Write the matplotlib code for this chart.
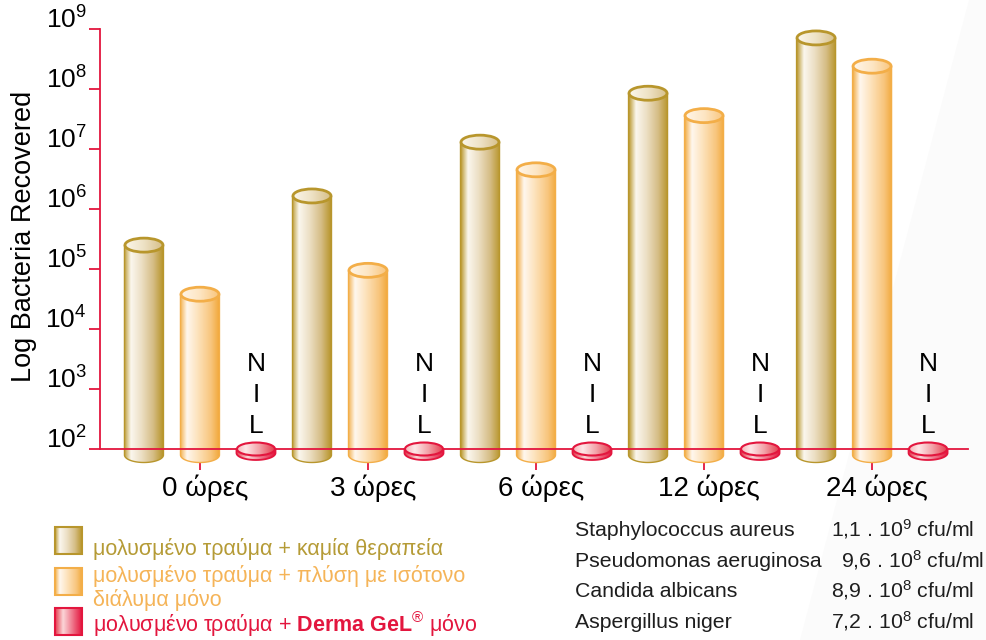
import matplotlib.pyplot as plt
import numpy as np
from matplotlib.colors import LinearSegmentedColormap
from matplotlib.patches import Ellipse, PathPatch, Polygon
from matplotlib.path import Path
from matplotlib.ticker import NullLocator
from matplotlib.transforms import IdentityTransform, ScaledTranslation

plt.rcParams['font.family'] = ['Liberation Sans', 'DejaVu Sans']
plt.rcParams['mathtext.fontset'] = 'custom'
plt.rcParams['mathtext.rm'] = 'Liberation Sans'
plt.rcParams['mathtext.it'] = 'Liberation Sans:italic'
plt.rcParams['mathtext.bf'] = 'Liberation Sans:bold'
plt.rcParams['mathtext.default'] = 'regular'

# data (cfu, log scale)
hours = ["0 ώρες", "3 ώρες", "6 ώρες", "12 ώρες", "24 ώρες"]
no_treatment = [2.5e5, 1.65e6, 1.3e7, 8.5e7, 7.1e8]
isotonic_only = [3.8e4, 9.5e4, 4.5e6, 3.6e7, 2.4e8]
derma_gel = ["NIL", "NIL", "NIL", "NIL", "NIL"]

legend_lines = [
    ["μολυσμένο τραύμα + καμία θεραπεία"],
    ["μολυσμένο τραύμα + πλύση με ισότονο", "διάλυμα μόνο"],
    [r"μολυσμένο τραύμα + $\mathbf{Derma\ GeL}^{®}$ μόνο"],
]
organisms = ["Staphylococcus aureus", "Pseudomonas aeruginosa",
             "Candida albicans", "Aspergillus niger"]
inoculum = ["1,1 . 10$^{9}$ cfu/ml", "9,6 . 10$^{8}$ cfu/ml",
            "8,9 . 10$^{8}$ cfu/ml", "7,2 . 10$^{8}$ cfu/ml"]

RED = '#e3163e'
GOLD = '#b8962c'
ORANGE = '#f3ae48'
gold_body = [(0, '#bc9b35'), (0.18, '#fbf7ee'), (0.45, '#ecdfc4'), (0.75, '#d5bd85'), (1, '#b8962c')]
gold_top = [(0, '#fbf7ec'), (0.5, '#eee2c6'), (1, '#d6bf88')]
orange_body = [(0, '#f2b04c'), (0.18, '#fff7ee'), (0.45, '#fde3bd'), (0.8, '#f8c57c'), (1, '#f2aa3e')]
orange_top = [(0, '#fff6ea'), (0.5, '#fde6c4'), (1, '#f9c57c')]
red_top = [(0, '#f6b3b8'), (0.25, '#fde8e8'), (0.6, '#f3a2a8'), (1, '#e43a4c')]
red_side = [(0, '#e43a4c'), (0.3, '#fbd6d8'), (1, '#e3163e')]

W, H = 987, 640
fig = plt.figure(figsize=(W / 100, H / 100), dpi=100)
fig.patches.append(Polygon([(969 / W, 1), (1, 1), (1, 0), (800 / W, 0)], closed=True,
                           transform=fig.transFigure, facecolor='#fbfbfb', edgecolor='none', zorder=-5))

# full-figure layer for the legend swatches (pixel coordinates)
lax = fig.add_axes([0, 0, 1, 1])
lax.set_xlim(0, W)
lax.set_ylim(0, H)
lax.set_autoscale_on(False)
lax.axis('off')

ax = fig.add_axes([100 / W, 161 / H, 868 / W, 450 / H])
ax.set_yscale('log')
ax.set_ylim(10 ** 1.5, 1e9)
ax.set_xlim(-0.595, 4.571)
ax.set_autoscale_on(False)
ax.patch.set_alpha(0)

for s in ['top', 'right']:
    ax.spines[s].set_visible(False)
ax.spines['left'].set_bounds(1e2, 1e9)
ax.spines['bottom'].set_position(('data', 1e2))
for s in ['left', 'bottom']:
    ax.spines[s].set_color(RED)
    ax.spines[s].set_linewidth(1.3)
    ax.spines[s].set_zorder(6)

ax.set_yticks([10.0 ** k for k in range(2, 10)])
ax.yaxis.set_minor_locator(NullLocator())
ax.tick_params(axis='y', length=8, width=1.3, color=RED, labelsize=19, pad=1.5)
for lab in ax.get_yticklabels():
    lab.set_va('baseline')
ax.set_xticks(range(len(hours)), hours)
ax.tick_params(axis='x', length=15, width=1.3, color=RED, labelsize=20, pad=3)
shift = ScaledTranslation(5 / 100, 0, fig.dpi_scale_trans)
for lab in ax.get_xticklabels():
    lab.set_transform(lab.get_transform() + shift)

fig.text(24 / W, 1 - 236 / H, "Log Bacteria Recovered", rotation=90,
         ha='center', va='center', fontsize=19.5)

px = IdentityTransform()


def gradient_fill(target, path, x0, x1, y0, y1, colors, z):
    clip = PathPatch(path, transform=px)
    cmap = LinearSegmentedColormap.from_list('g', colors)
    target.imshow(np.linspace(0, 1, 256)[None, :], cmap=cmap, extent=(x0, x1, y0, y1),
                  transform=px, aspect='auto', interpolation='bilinear', zorder=z, clip_path=clip)


def cylinder(xc, value, body, top, edge, z=3):
    cx, ytop = ax.transData.transform((xc, value))
    _, ybase = ax.transData.transform((xc, 1e2))
    ybot = ybase - 6
    hw, eh = 19.5, 7.5
    t = np.linspace(np.pi, 2 * np.pi, 40)
    arc = np.column_stack([cx + hw * np.cos(t), ybot + eh * np.sin(t)])
    verts = [(cx - hw, ytop)] + [tuple(p) for p in arc] + [(cx + hw, ytop), (cx - hw, ytop)]
    path = Path(verts, closed=True)
    gradient_fill(ax, path, cx - hw, cx + hw, ybot - eh, ytop, body, z)
    ax.add_patch(PathPatch(path, transform=px, facecolor='none', edgecolor=edge,
                           lw=1.0, zorder=z + 0.1, clip_on=False))
    e = Ellipse((cx, ytop), 2 * hw, 2 * eh, transform=px)
    gradient_fill(ax, e.get_path().transformed(e.get_patch_transform()),
                  cx - hw, cx + hw, ytop - eh, ytop + eh, top, z + 0.2)
    ax.add_patch(Ellipse((cx, ytop), 2 * hw - 1, 2 * eh - 1, transform=px, facecolor='none',
                         edgecolor=edge, lw=2.0, zorder=z + 0.3, clip_on=False))


def disc(xc, z=7):
    cx, yb = ax.transData.transform((xc, 1e2))
    hw, eh, th = 19.5, 7, 4
    t = np.linspace(np.pi, 2 * np.pi, 40)
    arc = np.column_stack([cx + hw * np.cos(t), yb - th + eh * np.sin(t)])
    verts = [(cx - hw, yb)] + [tuple(p) for p in arc] + [(cx + hw, yb), (cx - hw, yb)]
    path = Path(verts, closed=True)
    gradient_fill(ax, path, cx - hw, cx + hw, yb - th - eh, yb, red_side, z)
    ax.add_patch(PathPatch(path, transform=px, facecolor='none', edgecolor=RED,
                           lw=1.3, zorder=z + 0.1, clip_on=False))
    e = Ellipse((cx, yb), 2 * hw, 2 * eh, transform=px)
    gradient_fill(ax, e.get_path().transformed(e.get_patch_transform()),
                  cx - hw, cx + hw, yb - eh, yb + eh, red_top, z + 0.2)
    ax.add_patch(Ellipse((cx, yb), 2 * hw - 1, 2 * eh - 1, transform=px, facecolor='none',
                         edgecolor=RED, lw=1.5, zorder=z + 0.3, clip_on=False))


for i in range(len(hours)):
    cylinder(i - 1 / 3, no_treatment[i], gold_body, gold_top, GOLD)
    cylinder(i, isotonic_only[i], orange_body, orange_top, ORANGE)
    disc(i + 1 / 3)
    for k, ch in enumerate(derma_gel[i]):
        ax.annotate(ch, xy=(i + 1 / 3, 1e2), xytext=(0, 85 - 31 * k), textcoords='offset pixels',
                    ha='center', va='center', fontsize=19, color='black', annotation_clip=False)

# legend
legend_colors = ['#b59b36', '#f5b458', RED]
swatches = [gold_body, orange_body, red_side]
sw_edges = [GOLD, ORANGE, RED]
sw_rows = [527, 568, 608]
text_rows = [[555], [582], [632]]
text_rows[1].append(606)
for j in range(3):
    y1, y0 = H - sw_rows[j], H - sw_rows[j] - 27
    sq = Path([(55, y0), (82, y0), (82, y1), (55, y1), (55, y0)], closed=True)
    gradient_fill(lax, sq, 55, 82, y0, y1, swatches[j], 5)
    lax.add_patch(PathPatch(sq, transform=px, facecolor='none', edgecolor=sw_edges[j],
                            lw=1.5, zorder=5.1, clip_on=False))
    for line, row in zip(legend_lines[j], text_rows[j]):
        fig.text(93 / W, 1 - row / H, line, fontsize=15.5, va='baseline', color=legend_colors[j])

# inoculum table
rows = [536, 567, 597, 628]
val_x = [831, 841, 831, 831]
for j in range(len(organisms)):
    fig.text(575 / W, 1 - rows[j] / H, organisms[j], fontsize=15.3, va='baseline', color='#1e1e1e')
    fig.text(val_x[j] / W, 1 - rows[j] / H, inoculum[j], fontsize=15.3, va='baseline', color='#1e1e1e')

fig.savefig('out.png', dpi=100)
